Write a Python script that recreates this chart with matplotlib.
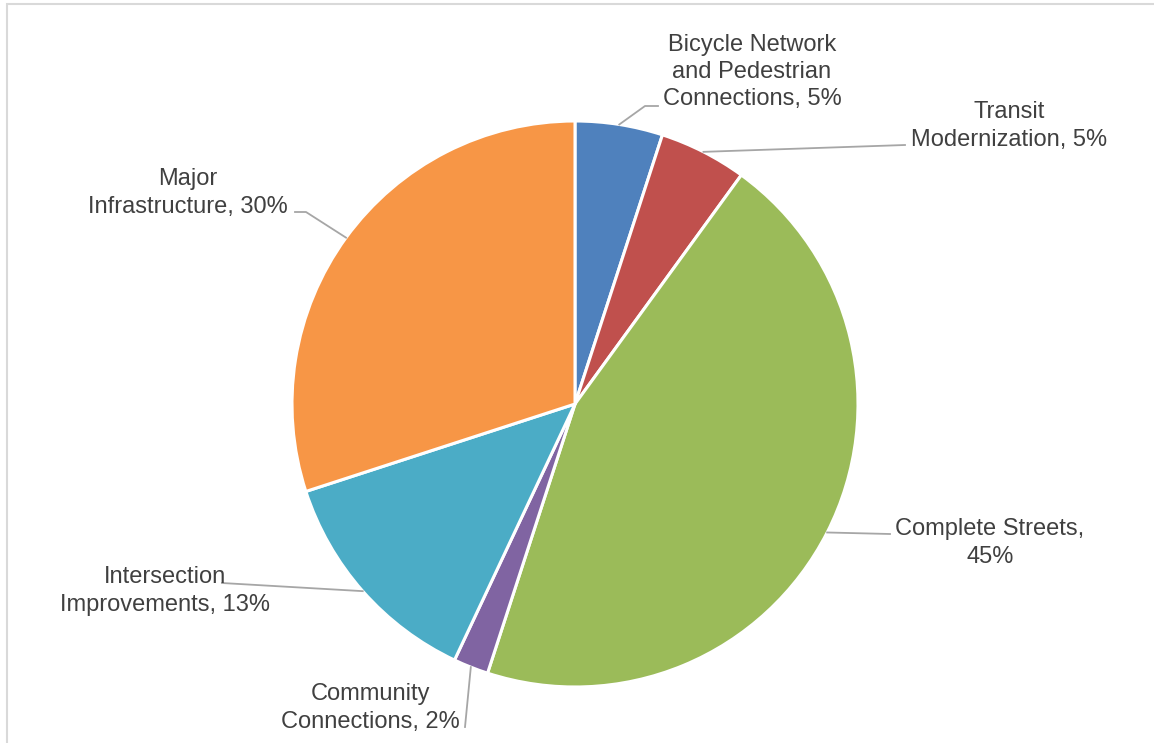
import numpy as np
import matplotlib.pyplot as plt
from matplotlib.patches import Rectangle

plt.rcParams['font.family'] = ['Liberation Sans', 'DejaVu Sans']

categories = [
    "Bicycle Network\nand Pedestrian\nConnections",
    "Transit\nModernization",
    "Complete Streets,\n",
    "Community\nConnections",
    "Intersection\nImprovements",
    "Major\nInfrastructure",
]
shares = [5, 5, 45, 2, 13, 30]
colors = ["#4F81BD", "#C0504D", "#9BBB59", "#8064A2", "#4BACC6", "#F79646"]

W, H = 1154, 743
CX, CY, R = 575, 404, 283

# label block centres and leader line waypoints, in pixels
label_pos = [(752, 72), (1009, 126), (990, 543), (370, 708), (165, 591), (188, 193)]
leader_path = [
    [(645, 106), (658, 106)],
    [(905, 145)],
    [(890, 534)],
    [(465, 727)],
    [(222, 583)],
    [(306, 212), (295, 212)],
]


def px(x, y):
    return (x - CX) / R, (CY - y) / R


fig = plt.figure(figsize=(W / 100, H / 100), dpi=100)
fig.patches.append(Rectangle((7 / W, -0.1), 1.2, 1 - 4 / H + 0.1,
                             transform=fig.transFigure, fill=False,
                             edgecolor="#D9D9D9", linewidth=1.5))

ax = fig.add_axes([(CX - R) / W, (H - CY - R) / H, 2 * R / W, 2 * R / H])
ax.axis("off")

wedges, _ = ax.pie(shares, colors=colors, startangle=90, counterclock=False,
                   radius=1, wedgeprops=dict(edgecolor="white", linewidth=2.2))
ax.set_xlim(-1, 1)
ax.set_ylim(-1, 1)

total = sum(shares)
angle = 90.0
for name, val, pos, path in zip(categories, shares, label_pos, leader_path):
    span = 360.0 * val / total
    mid = np.radians(angle - span / 2)
    angle -= span
    pts = [(np.cos(mid), np.sin(mid))] + [px(*p) for p in path]
    xs, ys = zip(*pts)
    ax.plot(xs, ys, color="#A6A6A6", linewidth=1.3, clip_on=False)
    text = name + (f"{val}%" if name.endswith("\n") else f", {val}%")
    tx, ty = px(*pos)
    ax.text(tx, ty, text, ha="center", va="center", fontsize=17,
            color="#404040", linespacing=1.32, clip_on=False)

fig.savefig("out.png", dpi=100)
